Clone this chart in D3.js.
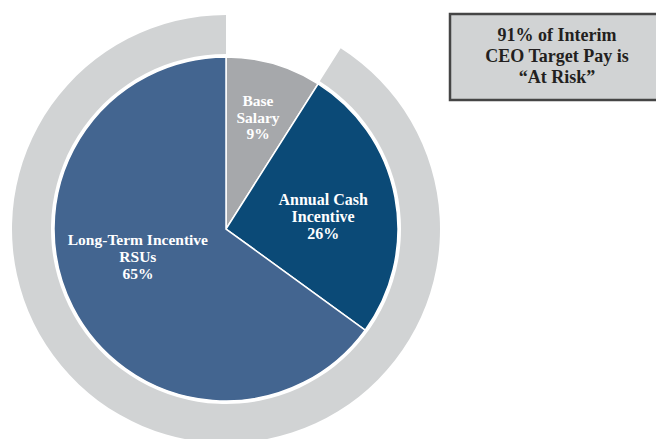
<html>
<head>
  <style>
    body { margin: 0; background: #fff; }
    text { font-family: "Liberation Serif", "Times New Roman", serif; font-weight: bold; }
  </style>
  <script src="https://d3js.org/d3.v7.min.js"></script>
</head>
<body>
  <svg></svg>
  <script type="text/javascript">
    var categories = ["Base Salary", "Annual Cash Incentive", "Long-Term Incentive RSUs"]
    var values = [9, 26, 65]
    var labelLines = [["Base", "Salary", "9%"], ["Annual Cash", "Incentive", "26%"], ["Long-Term Incentive", "RSUs", "65%"]]
    var atRisk = 91
    var calloutLines = ["91% of Interim", "CEO Target Pay is", "\u201cAt Risk\u201d"]

    var colors = ["#a6a8ab", "#0b4a77", "#436590"]
    var w = 656
    var h = 439
    var cx = 226
    var cy = 229
    var r = 172

    var svg = d3.select("svg")
      .attr("width", w)
      .attr("height", h)

    var g = svg.append("g")
      .attr("transform", "translate(" + cx + "," + cy + ")")

    // outer "at risk" ring
    var angle = d3.scaleLinear().domain([0, 100]).range([0, 2 * Math.PI])
    var ringArc = d3.arc()
      .innerRadius(r + 3)
      .outerRadius(214)
      .startAngle(angle(100 - atRisk))
      .endAngle(angle(100))
    g.append("path")
      .attr("d", ringArc())
      .attr("fill", "#d1d3d4")

    // pie
    var pie = d3.pie().sort(null).value(function(d) { return d })
    var arcs = pie(values)
    var arc = d3.arc().innerRadius(0).outerRadius(r)

    g.selectAll("path.slice")
      .data(arcs)
      .enter()
      .append("path")
      .attr("class", "slice")
      .attr("d", arc)
      .attr("fill", function(d, i) { return colors[i] })
      .attr("stroke", "#fff")
      .attr("stroke-width", 1.5)

    // slice labels: centroid of a thin arc, then nudged
    var labelPos = [
      { rad: 0.667, dy: -1, size: 15.5 },
      { rad: 0.575, dy: 6.5, size: 16 },
      { rad: 0.575, dy: -16.8, size: 15.5 }
    ]
    arcs.forEach(function(d, i) {
      var la = d3.arc().innerRadius(r * labelPos[i].rad).outerRadius(r * labelPos[i].rad)
      var c = la.centroid(d)
      var t = g.append("text")
        .attr("text-anchor", "middle")
        .attr("fill", "#fff")
        .style("font-size", labelPos[i].size + "px")
      labelLines[i].forEach(function(line, j) {
        t.append("tspan")
          .attr("x", c[0])
          .attr("y", c[1] + (j - 1) * 16.6 + 5 + labelPos[i].dy)
          .text(line)
      })
    })

    // callout box
    svg.append("rect")
      .attr("x", 450)
      .attr("y", 14)
      .attr("width", 215)
      .attr("height", 86)
      .attr("fill", "#d1d3d4")
      .attr("stroke", "#454545")
      .attr("stroke-width", 2.5)

    svg.append("g").selectAll("text")
      .data(calloutLines)
      .enter()
      .append("text")
      .text(function(d) { return d })
      .attr("x", 557)
      .attr("y", function(d, i) { return 41 + i * 21 })
      .attr("text-anchor", "middle")
      .attr("fill", "#231f20")
      .style("font-size", "18px")
  </script>
</body>
</html>
